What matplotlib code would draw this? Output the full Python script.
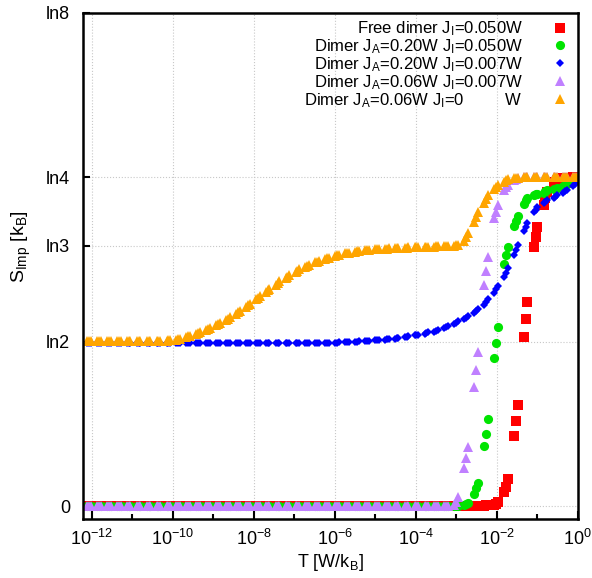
import numpy as np
import matplotlib
matplotlib.use("Agg")
import matplotlib.pyplot as plt
from matplotlib.ticker import FixedLocator, FixedFormatter, NullFormatter

plt.rcParams["font.family"] = ["Liberation Sans", "DejaVu Sans"]
plt.rcParams["mathtext.default"] = "regular"

# temperatures come in clumps of three points, log10(T / W)
clump_start = [-12.355, -12.110, -11.865, -11.620, -11.375, -11.130, -10.885, -10.640,
               -10.395, -10.150, -9.905, -9.660, -9.415, -9.170, -8.925, -8.680, -8.435,
               -8.190, -7.945, -7.700, -7.455, -7.210, -6.965, -6.720, -6.475, -6.230,
               -5.985, -5.740, -5.495, -5.250, -5.005, -4.760, -4.515, -4.270, -4.025,
               -3.780, -3.535, -3.290, -3.045, -2.800, -2.555, -2.310, -2.065, -1.820,
               -1.575, -1.330, -1.085, -0.840, -0.595, -0.350, -0.105]
clump_offset = [0.0, 0.045, 0.09]
log_t = np.add.outer(clump_start, clump_offset).ravel()

# free dimer J_I=0.050W
red_s = [0.0] * 120 + [0.002, 0.003, 0.003, 0.004, 0.005, 0.006, 0.008, 0.012, 0.018,
                       0.061, 0.082, 0.116, 0.297, 0.360, 0.427, 0.713, 0.789, 0.860,
                       1.092, 1.134, 1.176, 1.268, 1.298, 1.323, 1.352, 1.365, 1.374,
                       1.382, 1.384, 1.385, 1.386, 1.386, 1.386]

# dimer J_A=0.20W J_I=0.050W
green_s = [0.0] * 117 + [0.006, 0.010, 0.015, 0.053, 0.078, 0.099, 0.253, 0.307, 0.368,
                         0.627, 0.688, 0.755, 1.022, 1.060, 1.094, 1.183, 1.204, 1.222,
                         1.275, 1.289, 1.297, 1.310, 1.314, 1.318, 1.322, 1.327, 1.331,
                         1.336, 1.338, 1.342, 1.350, 1.355, 1.360, 1.372, 1.376, 1.380]

# dimer J_A=0.20W J_I=0.007W
blue_s = [0.689] * 75 + [0.689, 0.689, 0.690, 0.690, 0.690, 0.691, 0.691, 0.692, 0.692,
                         0.693, 0.694, 0.695, 0.696, 0.697, 0.698, 0.699, 0.700, 0.701,
                         0.703, 0.704, 0.705, 0.707, 0.709, 0.710, 0.713, 0.715, 0.717,
                         0.720, 0.722, 0.724, 0.727, 0.730, 0.733, 0.736, 0.740, 0.744,
                         0.750, 0.755, 0.760, 0.767, 0.773, 0.779, 0.788, 0.795, 0.802,
                         0.815, 0.824, 0.833, 0.850, 0.862, 0.875, 0.900, 0.915, 0.930,
                         0.968, 0.985, 1.003, 1.060, 1.079, 1.100, 1.160, 1.176, 1.193,
                         1.240, 1.250, 1.260, 1.278, 1.283, 1.289, 1.300, 1.305, 1.310,
                         1.322, 1.328, 1.334, 1.350, 1.358, 1.366]

# dimer J_A=0.06W J_I=0.007W
purple_s = [0.0] * 114 + [0.006, 0.020, 0.040, 0.162, 0.204, 0.250, 0.503, 0.574, 0.650,
                          0.932, 0.991, 1.050, 1.213, 1.239, 1.268, 1.332, 1.344, 1.352,
                          1.374, 1.379, 1.382] + [1.386] * 18

# dimer J_A=0.06W J_I=0
orange_s = [0.697] * 24 + [0.697, 0.697, 0.698, 0.698, 0.699, 0.700, 0.702, 0.704, 0.706,
                           0.713, 0.716, 0.719, 0.728, 0.731, 0.734, 0.745, 0.749, 0.753,
                           0.764, 0.768, 0.772, 0.786, 0.791, 0.796, 0.812, 0.818, 0.824,
                           0.842, 0.848, 0.854, 0.872, 0.879, 0.886, 0.903, 0.910, 0.917,
                           0.934, 0.941, 0.948, 0.962, 0.968, 0.974, 0.988, 0.993, 0.998,
                           1.010, 1.014, 1.018, 1.028, 1.031, 1.034, 1.044, 1.046, 1.048,
                           1.056, 1.058, 1.060, 1.066, 1.067, 1.068, 1.073, 1.074, 1.075,
                           1.078, 1.079, 1.080, 1.083, 1.083, 1.084, 1.086, 1.086, 1.087,
                           1.088, 1.088, 1.089, 1.090, 1.090, 1.091, 1.092, 1.092, 1.092,
                           1.093, 1.093, 1.094, 1.094, 1.095, 1.095, 1.096, 1.096, 1.096,
                           1.098, 1.100, 1.103, 1.120, 1.135, 1.150, 1.200, 1.220, 1.240,
                           1.280, 1.295, 1.310, 1.338, 1.345, 1.352, 1.368, 1.373, 1.378,
                           1.383, 1.384, 1.385] + [1.386] * 18

labels = [r"Free dimer J$_I$=0.050W",
          r"Dimer J$_A$=0.20W J$_I$=0.050W",
          r"Dimer J$_A$=0.20W J$_I$=0.007W",
          r"Dimer J$_A$=0.06W J$_I$=0.007W",
          r"Dimer J$_A$=0.06W J$_I$=0         W"]

fig = plt.figure(figsize=(5.92, 5.78), dpi=100)
ax = fig.add_axes([0.1397, 0.1016, 0.8361, 0.8764])

t = 10.0 ** log_t
series = [(red_s, "s", 7.3, "#ff0000"),
          (green_s, "o", 6.6, "#00e400"),
          (blue_s, "D", 4.2, "#0000ff"),
          (purple_s, "^", 7.6, "#c080ff"),
          (orange_s, "^", 7.6, "#ffa500")]
for (s, mk, ms, col), lab in zip(series, labels):
    ax.plot(t, s, ls="none", marker=mk, ms=ms, color=col, mew=0, label=lab)

ax.set_xscale("log")
ax.set_xlim(10 ** -12.22, 1.0)
ax.set_ylim(-0.054, np.log(8))

major = [10.0 ** e for e in range(-12, 1, 2)]
ax.xaxis.set_major_locator(FixedLocator(major))
ax.xaxis.set_major_formatter(FixedFormatter([r"$10^{%d}$" % e for e in range(-12, 1, 2)]))
ax.xaxis.set_minor_locator(FixedLocator([10.0 ** e for e in range(-11, 0, 2)]))
ax.xaxis.set_minor_formatter(NullFormatter())

ax.yaxis.set_major_locator(FixedLocator([0, np.log(2), np.log(3), np.log(4), np.log(8)]))
ax.yaxis.set_major_formatter(FixedFormatter(["0", "ln2", "ln3", "ln4", "ln8"]))

ax.tick_params(which="major", direction="in", length=6, width=1.5, labelsize=13)
ax.tick_params(axis="x", which="major", pad=7)
ax.tick_params(axis="y", which="major", pad=9, length=5)
ax.tick_params(which="minor", direction="in", length=3.5, width=1.5)
ax.tick_params(top=False, right=False)
for sp in ax.spines.values():
    sp.set_linewidth(1.8)

ax.grid(True, which="major", ls=":", color="#c8c8c8", lw=0.8)

ax.set_xlabel(r"T [W/k$_B$]", fontsize=13, labelpad=2)
ax.set_ylabel(r"S$_{Imp}$ [k$_B$]", fontsize=14)
ax.yaxis.set_label_coords(-0.1, 0.5375)

leg = ax.legend(loc="upper right", frameon=False, markerfirst=False, fontsize=12,
                handlelength=1.3, handletextpad=1.6, labelspacing=-0.05,
                borderaxespad=0.1, borderpad=0.3)

fig.savefig("out.png", dpi=100)
